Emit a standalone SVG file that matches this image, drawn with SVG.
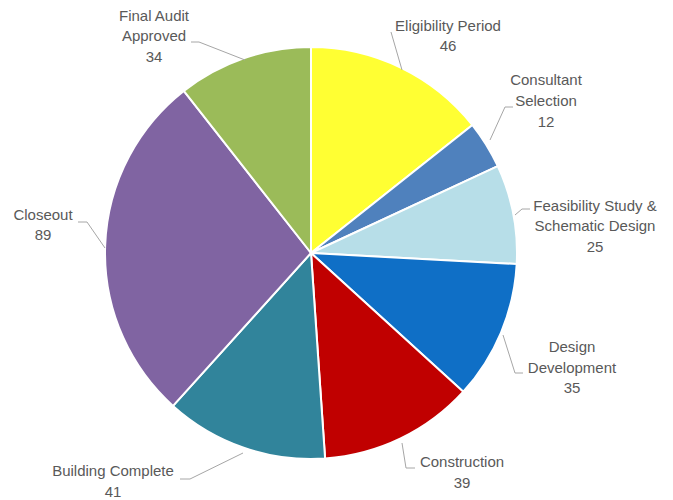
<svg xmlns="http://www.w3.org/2000/svg" width="673" height="500" viewBox="0 0 673 500">
<style>
.s{stroke:#fff;stroke-width:2;stroke-linejoin:round}
.t{font-family:"Liberation Sans",Arial,sans-serif;font-size:15px;fill:#595959;text-anchor:middle}
.l{fill:none;stroke:#a6a6a6;stroke-width:1}
</style>
<rect width="673" height="500" fill="#fff"/>
<g id="slices">
<g id="eligibility"><path class="s" fill="#FFFF33" d="M311,253 L311,47 A206,206 0 0 1 472.43,125.04 Z"/></g>
<g id="consultant"><path class="s" fill="#4F81BD" d="M311,253 L472.43,125.04 A206,206 0 0 1 497.77,166.10 Z"/></g>
<g id="feasibility"><path class="s" fill="#B7DEE8" d="M311,253 L497.77,166.10 A206,206 0 0 1 516.70,264.08 Z"/></g>
<g id="design"><path class="s" fill="#0F6FC6" d="M311,253 L516.70,264.08 A206,206 0 0 1 463.28,391.73 Z"/></g>
<g id="construction"><path class="s" fill="#C00000" d="M311,253 L463.28,391.73 A206,206 0 0 1 325.10,458.52 Z"/></g>
<g id="building"><path class="s" fill="#31849B" d="M311,253 L325.10,458.52 A206,206 0 0 1 173.00,405.94 Z"/></g>
<g id="closeout"><path class="s" fill="#8064A2" d="M311,253 L173.00,405.94 A206,206 0 0 1 183.82,90.95 Z"/></g>
<g id="finalaudit"><path class="s" fill="#9BBB59" d="M311,253 L183.82,90.95 A206,206 0 0 1 311,47 Z"/></g>
</g>
<g id="connectors">
<polyline class="l" points="191,42 199,42 245,60"/>
<polyline class="l" points="391,32 402,70"/>
<polyline class="l" points="513,107 505,107 490,140"/>
<polyline class="l" points="530,209 522,209 515,215"/>
<polyline class="l" points="503,335 515,373 523,373"/>
<polyline class="l" points="402,443 406,468 415,468"/>
<polyline class="l" points="180,479 190,479 243,453"/>
<polyline class="l" points="78,222 87,222 105,248"/>
</g>
<g id="labels">
<text class="t" x="154" y="21">Final Audit</text>
<text class="t" x="154" y="41">Approved</text>
<text class="t" x="154" y="62">34</text>
<text class="t" x="448" y="31">Eligibility Period</text>
<text class="t" x="448" y="51">46</text>
<text class="t" x="546" y="85">Consultant</text>
<text class="t" x="546" y="106">Selection</text>
<text class="t" x="546" y="127">12</text>
<text class="t" x="595" y="211">Feasibility Study &amp;</text>
<text class="t" x="595" y="231">Schematic Design</text>
<text class="t" x="595" y="252">25</text>
<text class="t" x="572" y="352">Design</text>
<text class="t" x="572" y="373">Development</text>
<text class="t" x="572" y="393">35</text>
<text class="t" x="462" y="467">Construction</text>
<text class="t" x="462" y="488">39</text>
<text class="t" x="113" y="476">Building Complete</text>
<text class="t" x="113" y="497">41</text>
<text class="t" x="43" y="220">Closeout</text>
<text class="t" x="43" y="240">89</text>
</g>
</svg>
